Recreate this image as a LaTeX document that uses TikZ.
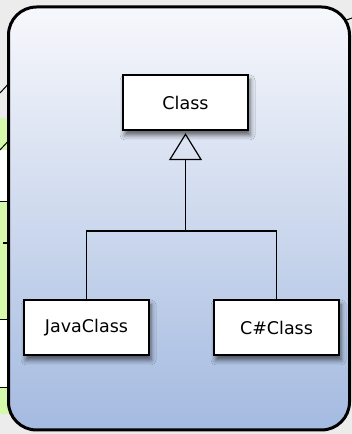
\documentclass[tikz,border=0pt]{standalone}
\usepackage{fontspec}
\setmainfont{DejaVu Sans}
\usetikzlibrary{shadows.blur,arrows.meta}
\definecolor{bgGray}{RGB}{236,236,236}
\definecolor{limeFill}{RGB}{214,248,170}
\definecolor{topBlue}{RGB}{247,248,252}
\definecolor{botBlue}{RGB}{164,186,224}
\begin{document}
\begin{tikzpicture}[x=1pt,y=1pt,
  classbox/.style={draw=black, line width=1.3pt, fill=white,
    minimum width=125pt, minimum height=55pt, inner sep=0pt,
    font=\fontsize{17.5}{20}\selectfont,
    blur shadow={shadow xshift=2pt, shadow yshift=-5pt, shadow blur radius=5pt, shadow opacity=60}},
  conn/.style={line width=1.2pt, draw=black},
  stripline/.style={line width=1pt, draw=black},
  panel/.style={line width=3pt, draw=black, rounded corners=28pt,
    top color=topBlue, bottom color=botBlue}]
% background and bounding box
\fill[bgGray] (0,0) rectangle (352,434);
\useasboundingbox (0,0) rectangle (352,434);
% left strip (parts of neighbouring diagram)
\fill[limeFill] (0,20) rectangle (12,316);
\fill[white] (0,232) rectangle (12,284);
\fill[white] (0,46) rectangle (12,114);
\draw[stripline] (0,341) -- (12,354);
\draw[stripline] (0,284) -- (12,297);
\draw[stripline] (0,232) -- (12,232);
\draw[stripline] (0,114) -- (12,114);
\draw[stripline] (0,46) -- (12,46);
\draw[stripline, line width=1.5pt] (3,191) -- (12,191);
\draw[stripline] (338,411) -- (352,416);
% main panel
\path[panel] (8.5,427) rectangle (349.5,4);
% classes
\node[classbox] (cls) at (185.5,331.5) {Class};
\node[classbox] (java) at (86.5,106.5) {JavaClass};
\node[classbox] (cs) at (276.5,106.5) {C\#Class};
% connectors
\coordinate (j) at (185.5,203);
\draw[conn] (java.north) |- (j) -| (cs.north);
\draw[conn, -{Triangle[open, length=27pt, width=33pt]}, shorten >=2.5pt] (j) -- (cls.south);
\end{tikzpicture}
\end{document}
